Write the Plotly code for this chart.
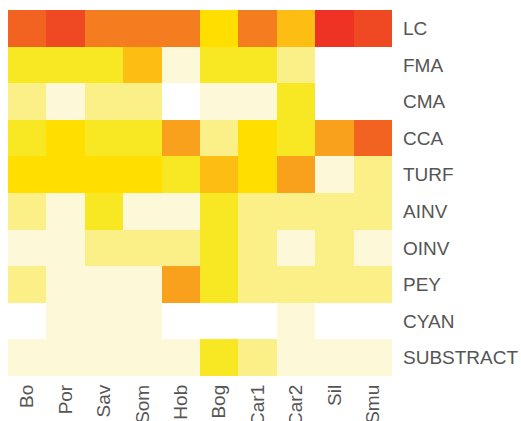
import plotly.graph_objects as go

sites = ["Bo", "Por", "Sav", "Som", "Hob", "Bog", "Car1", "Car2", "Sil", "Smu"]
groups = ["LC", "FMA", "CMA", "CCA", "TURF", "AINV", "OINV", "PEY", "CYAN", "SUBSTRACT"]

# cover class per site (None = absent)
LC = [8, 9, 7, 7, 7, 4, 7, 5, 10, 9]
FMA = [3, 3, 3, 5, 1, 3, 3, 2, None, None]
CMA = [2, 1, 2, 2, None, 1, 1, 3, None, None]
CCA = [3, 4, 3, 3, 6, 2, 4, 3, 6, 8]
TURF = [4, 4, 4, 4, 3, 5, 4, 6, 1, 2]
AINV = [2, 1, 3, 1, 1, 3, 2, 2, 2, 2]
OINV = [1, 1, 2, 2, 2, 3, 2, 1, 2, 1]
PEY = [2, 1, 1, 1, 6, 3, 2, 2, 2, 2]
CYAN = [None, 1, 1, 1, None, None, None, 1, None, None]
SUBSTRACT = [1, 1, 1, 1, 1, 3, 2, 1, 1, 1]

class_colors = ["#FDF8D8", "#FBEF88", "#F8E824", "#FFDE00", "#FDBD13",
                "#F9A11C", "#F47D20", "#F26322", "#EF4923", "#EE3224"]

z = [LC, FMA, CMA, CCA, TURF, AINV, OINV, PEY, CYAN, SUBSTRACT]

n = len(class_colors)
colorscale = []
for i, c in enumerate(class_colors):
    colorscale.append([i / n, c])
    colorscale.append([(i + 1) / n, c])

fig = go.Figure(go.Heatmap(
    z=z, x=sites, y=groups,
    colorscale=colorscale, zmin=0.5, zmax=n + 0.5,
    showscale=False, hoverongaps=False,
))

fig.update_layout(
    width=521, height=421,
    margin=dict(l=8, r=129, t=10, b=45),
    paper_bgcolor="white", plot_bgcolor="white",
    font=dict(family="Liberation Sans, Arial, sans-serif", size=19, color="#555555"),
)
fig.update_xaxes(tickangle=-90, showgrid=False, zeroline=False, automargin=False,
                 ticks="", ticklabelstandoff=4)
fig.update_yaxes(side="right", autorange="reversed", showgrid=False, zeroline=False,
                 automargin=False, ticks="", ticklabelstandoff=10,
                 categoryorder="array", categoryarray=groups)

fig.write_html("out.html", config={"displayModeBar": False},
               post_script="document.body.style.margin='0';document.body.style.overflow='hidden';")
